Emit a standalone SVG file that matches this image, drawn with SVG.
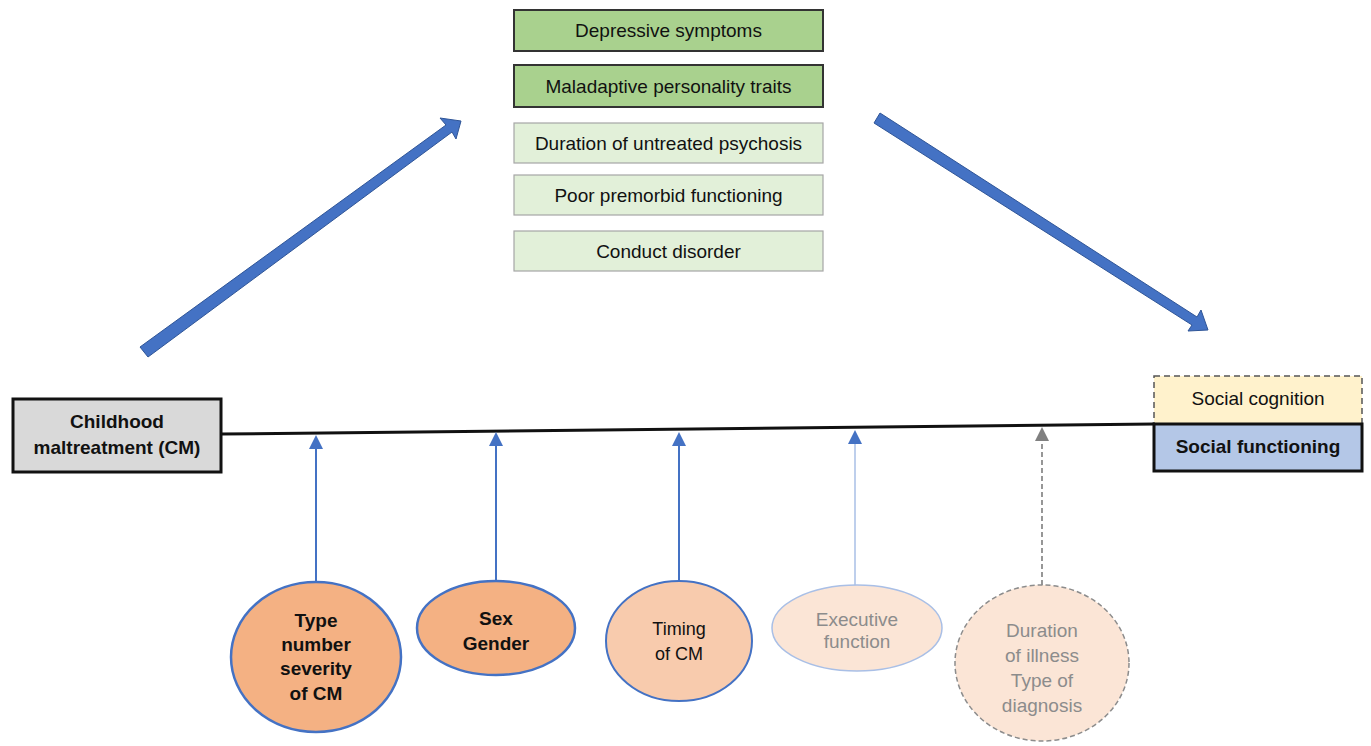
<svg xmlns="http://www.w3.org/2000/svg" width="1371" height="746" viewBox="0 0 1371 746">
<style>
text{font-family:"Liberation Sans",Arial,sans-serif;text-anchor:middle;fill:#111}
.t{font-size:19px}
.b{font-size:19px;font-weight:bold}
.g{fill:#8c8c8c;font-size:19px}
.dk{fill:#a9d18e;stroke:#333;stroke-width:2}
.lt{fill:#e2f0d9;stroke:#a6a6a6;stroke-width:1.2}
</style>
<defs>
<marker id="ab" markerWidth="14" markerHeight="14" refX="12" refY="7" orient="auto" markerUnits="userSpaceOnUse" viewBox="0 0 14 14"><path d="M0,0 L14,7 L0,14 Z" fill="#4472c4"/></marker>
<marker id="ag" markerWidth="14" markerHeight="14" refX="12" refY="7" orient="auto" markerUnits="userSpaceOnUse" viewBox="0 0 14 14"><path d="M0,0 L14,7 L0,14 Z" fill="#808080"/></marker>
</defs>
<g id="connectors">
<line x1="221" y1="434" x2="1155" y2="424" stroke="#111" stroke-width="3"/>
<polygon points="140,347 446,125 440,118 461,121 456,139 452,132 148,357" fill="#4472c4" stroke="#2f5597" stroke-width="1"/>
<polygon points="880,113 1197,317 1201,310 1208,330 1188,331 1192,325 874,123" fill="#4472c4" stroke="#2f5597" stroke-width="1"/>
<line x1="316" y1="583" x2="316" y2="437" stroke="#4472c4" stroke-width="2" marker-end="url(#ab)"/>
<line x1="496" y1="581" x2="496" y2="434" stroke="#4472c4" stroke-width="2" marker-end="url(#ab)"/>
<line x1="679" y1="582" x2="679" y2="434" stroke="#4472c4" stroke-width="2" marker-end="url(#ab)"/>
<line x1="855" y1="587" x2="855" y2="432" stroke="#a9bfe6" stroke-width="1.5" marker-end="url(#ab)"/>
<line x1="1042" y1="585" x2="1042" y2="429" stroke="#8c8c8c" stroke-width="1.8" stroke-dasharray="5,3" marker-end="url(#ag)"/>
</g>
<g id="depressive"><rect class="dk" x="514" y="10" width="309" height="41"/><text class="t" x="668.5" y="37">Depressive symptoms</text></g>
<g id="maladaptive"><rect class="dk" x="514" y="65" width="309" height="42"/><text class="t" x="668.5" y="93">Maladaptive personality traits</text></g>
<g id="dup"><rect class="lt" x="514" y="123" width="309" height="40"/><text class="t" x="668.5" y="150">Duration of untreated psychosis</text></g>
<g id="premorbid"><rect class="lt" x="514" y="175" width="309" height="40"/><text class="t" x="668.5" y="202">Poor premorbid functioning</text></g>
<g id="conduct"><rect class="lt" x="514" y="231" width="309" height="40"/><text class="t" x="668.5" y="258">Conduct disorder</text></g>
<g id="cm"><rect x="13" y="399" width="208" height="73" fill="#d9d9d9" stroke="#111" stroke-width="3"/><text class="b" x="117" y="428">Childhood</text><text class="b" x="117" y="454">maltreatment (CM)</text></g>
<g id="socialcognition"><rect x="1154" y="376" width="208" height="48" fill="#fff2cc" stroke="#555" stroke-width="1.5" stroke-dasharray="6,4"/><text class="t" x="1258" y="405">Social cognition</text></g>
<g id="socialfunctioning"><rect x="1154" y="424" width="208" height="47" fill="#b4c7e7" stroke="#111" stroke-width="3"/><text class="b" x="1258" y="453">Social functioning</text></g>
<g id="type"><ellipse cx="316" cy="657" rx="85" ry="75" fill="#f4b183" stroke="#4472c4" stroke-width="2.5"/><text class="b" x="316" y="627">Type</text><text class="b" x="316" y="651">number</text><text class="b" x="316" y="675">severity</text><text class="b" x="316" y="700">of CM</text></g>
<g id="sex"><ellipse cx="496" cy="628" rx="79" ry="47" fill="#f4b183" stroke="#4472c4" stroke-width="2.5"/><text class="b" x="496" y="625">Sex</text><text class="b" x="496" y="650">Gender</text></g>
<g id="timing"><ellipse cx="679" cy="641" rx="73" ry="60" fill="#f8cbad" stroke="#4472c4" stroke-width="2"/><text x="679" y="635" style="font-size:18px">Timing</text><text x="679" y="660" style="font-size:18px">of CM</text></g>
<g id="executive"><ellipse cx="857" cy="628" rx="85" ry="43" fill="#fbe5d6" stroke="#a9bfe6" stroke-width="1.5"/><text class="g" x="857" y="626">Executive</text><text class="g" x="857" y="648">function</text></g>
<g id="illness"><ellipse cx="1042" cy="663" rx="87" ry="78" fill="#fbe5d6" stroke="#8c8c8c" stroke-width="1.5" stroke-dasharray="5,3"/><text class="g" x="1042" y="637">Duration</text><text class="g" x="1042" y="662">of illness</text><text class="g" x="1042" y="687">Type of</text><text class="g" x="1042" y="712">diagnosis</text></g>
</svg>
